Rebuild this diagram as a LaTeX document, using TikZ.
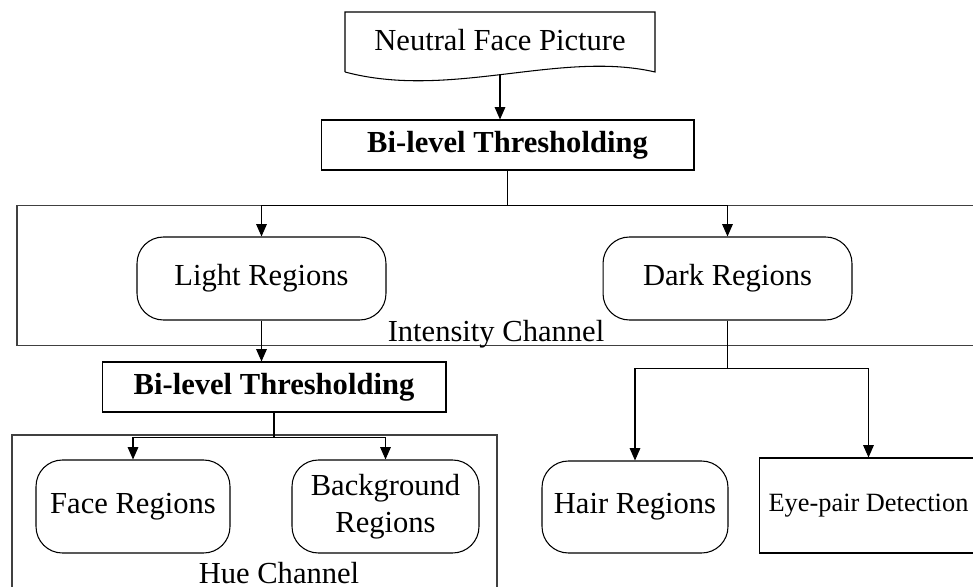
\documentclass[tikz,border=0pt]{standalone}
\usepackage{fontspec}
\setmainfont{Liberation Serif}
\usetikzlibrary{arrows.meta}
\begin{document}
\begin{tikzpicture}[x=0.02cm,y=-0.02cm,
  every node/.style={font=\fontsize{17.4}{21}\selectfont, inner sep=0pt},
  ln/.style={line width=0.6pt, draw=black},
  cont/.style={line width=0.7pt, draw=black!75},
  arr/.style={ln, -{Triangle[length=7pt,width=6pt]}},
  rbox/.style={draw, line width=0.6pt, rounded corners=15pt, align=center},
  sbox/.style={draw, line width=0.6pt, align=center},
  bbox/.style={draw, line width=0.6pt, font=\fontsize{17.4}{21}\selectfont\bfseries}
]
\useasboundingbox (0,0) rectangle (973,587);
% source document
\node (doc) at (500,40) {Neutral Face Picture};
\draw[ln] (345,72) -- (345,12) -- (655,12) -- (655,72)
  .. controls (560,50) and (450,100) .. (345,72);
\coordinate (docbot) at (500,75);
% first thresholding
\node[bbox, minimum width=7.46cm, minimum height=1cm] (b1) at (507.5,145) {Bi-level Thresholding};
% intensity channel container
\node[cont, draw, minimum width=19.46cm, minimum height=2.8cm] (intens) at (503.5,275.5) {};
\node[anchor=base] (intlab) at (496,341) {Intensity Channel};
\node[rbox, minimum width=4.98cm, minimum height=1.66cm] (light) at (261.5,278.5) {Light Regions};
\node[rbox, minimum width=4.98cm, minimum height=1.66cm] (dark) at (727.5,278.5) {Dark Regions};
% second thresholding
\node[bbox, minimum width=6.88cm, minimum height=1cm] (b2) at (274,387) {Bi-level Thresholding};
% hue channel container
\node[cont, draw, minimum width=9.7cm, minimum height=3.5cm] (hue) at (254.5,522.5) {};
\node[anchor=base] (huelab) at (279,583) {Hue Channel};
\node[rbox, minimum width=3.88cm, minimum height=1.86cm] (face) at (133,506.5) {Face Regions};
\node[rbox, minimum width=3.74cm, minimum height=1.86cm] (bg) at (385.5,506.5) {Background\\Regions};
% dark branch
\node[rbox, minimum width=3.72cm, minimum height=1.84cm] (hair) at (635,507) {Hair Regions};
\node[sbox, minimum width=4.38cm, minimum height=1.9cm, font=\fontsize{15}{18}\selectfont] (eye) at (868.5,505.5) {Eye-pair Detection};
% connectors
\draw[arr] (docbot) -- (docbot |- b1.north);
\draw[ln] (b1.south) -- ++(0,35) coordinate (j1);
\draw[arr] (j1) -| (light.north);
\draw[arr] (j1) -| (dark.north);
\draw[arr] (light.south) -- (light.south |- b2.north);
\draw[ln] (b2.south) -- ++(0,25) coordinate (j2);
\draw[arr] (j2) -| (face.north);
\draw[arr] (j2) -| (bg.north);
\draw[ln] (dark.south) -- ++(0,48) coordinate (j3);
\draw[arr] (j3) -| (hair.north);
\draw[arr] (j3) -| (eye.north);
\end{tikzpicture}
\end{document}
